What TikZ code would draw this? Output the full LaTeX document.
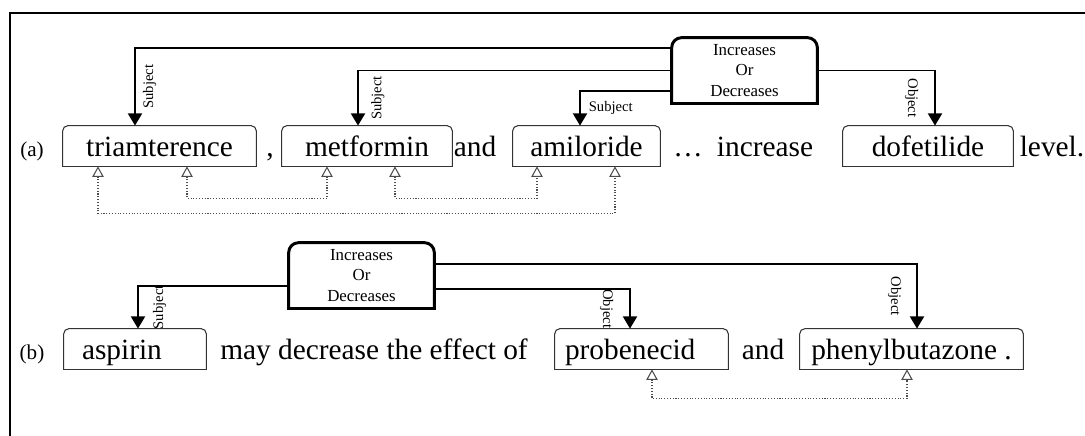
\documentclass[tikz,border=0pt]{standalone}
\usepackage{fontspec}
\setmainfont{Liberation Serif}
\usetikzlibrary{arrows.meta}

\begin{document}
\begin{tikzpicture}[
  word/.style={minimum height=0.8cm, inner sep=0pt, font=\fontsize{16.7}{20}\selectfont, text height=12pt, text depth=0pt},
  plain/.style={inner sep=0pt, font=\fontsize{16.7}{20}\selectfont, text height=12pt, text depth=0pt},
  tag/.style={inner sep=0pt, font=\fontsize{12}{14}\selectfont, text height=12pt, text depth=0pt},
  relbox/.style={minimum width=2.9cm, minimum height=1.3cm, inner sep=0pt, align=center, font=\fontsize{9.6}{11.6}\selectfont},
  boxline/.style={draw=black!80, line width=0.6pt, line cap=rect},
  thickline/.style={draw=black, line width=1.7pt, line cap=rect},
  rel/.style={line width=1.1pt, -{Triangle[width=8pt, length=7pt]}},
  coref/.style={densely dotted, gray!60!black, line width=0.6pt, {Triangle[open, width=6.5pt, length=6pt]}-{Triangle[open, width=6.5pt, length=6pt]}},
  lab/.style={inner sep=1.5pt, font=\fontsize{8.3}{10}\selectfont}
]
\useasboundingbox (0,0) rectangle (21.7,8.72);
\draw[line width=1.1pt] (0.2,0) -- (0.2,8.46) -- (21.7,8.46);

% sentence (a)
\node[tag] (taga) at (0.64,5.8) {(a)};
\node[word, minimum width=3.86cm] (tri) at (3.19,5.8) {triamterence};
\node[plain] (comma) at (5.40,5.8) {,};
\node[word, minimum width=3.40cm] (met) at (7.34,5.8) {metformin};
\node[plain] (and1) at (9.50,5.8) {and};
\node[word, minimum width=2.94cm] (ami) at (11.73,5.8) {amiloride};
\node[plain] (dots) at (13.76,5.8) {…};
\node[plain] (incr) at (15.30,5.8) {increase};
\node[word, minimum width=3.40cm] (dof) at (18.56,5.8) {dofetilide};
\node[plain] (level) at (21.04,5.8) {level.};
\node[relbox] (ioda) at (14.89,7.31) {Increases\\Or\\Decreases};

% sentence (b)
\node[tag] (tagb) at (0.64,1.74) {(b)};
\node[word, text width=2.12cm, inner xsep=0.36cm, align=left] (asp) at (2.70,1.74) {aspirin};
\node[plain] (may) at (7.48,1.74) {may decrease the effect of};
\node[word, text width=3.06cm, inner xsep=0.2cm, align=left] (pro) at (12.83,1.74) {probenecid};
\node[plain] (and2) at (15.26,1.74) {and};
\node[word, minimum width=4.46cm] (phe) at (18.23,1.74) {phenylbutazone .};
\node[relbox] (iodb) at (7.23,3.21) {Increases\\Or\\Decreases};

% outlines, rounded on top only
\foreach \n in {tri,met,ami,dof,asp,pro,phe}{
  \draw[boxline, rounded corners=3pt] (\n.south west) -- (\n.north west) -- (\n.north east) -- (\n.south east);
  \draw[boxline] (\n.south west) -- (\n.south east);
}
\foreach \n in {ioda,iodb}{
  \draw[thickline, rounded corners=0.2cm] (\n.south west) -- (\n.north west) -- (\n.north east) -- (\n.south east);
  \draw[thickline] (\n.south west) -- (\n.south east);
}

% relations (a)
\draw[rel] ([yshift=0.45cm]ioda.west) -| node[lab, pos=0.75, rotate=90, anchor=north, outer sep=3pt] {Subject} ([xshift=-0.49cm]tri.north);
\draw[rel] (ioda.west) -| node[lab, pos=0.75, rotate=90, anchor=north, outer sep=6pt] {Subject} ([xshift=-0.18cm]met.north);
\draw[rel] ([yshift=-0.41cm]ioda.west) -| node[lab, pos=0.75, anchor=west, xshift=3pt] {Subject} ([xshift=-0.13cm]ami.north);
\draw[rel] (ioda.east) -| node[lab, pos=0.75, rotate=-90, anchor=north, outer sep=8pt] {Object} ([xshift=0.14cm]dof.north);

% relations (b)
\draw[rel] ([yshift=-0.21cm]iodb.west) -| node[lab, pos=0.75, rotate=90, anchor=north, outer sep=7pt] {Subject} ([xshift=0.06cm]asp.north);
\draw[rel] ([yshift=-0.27cm]iodb.east) -| node[lab, pos=0.75, rotate=-90, anchor=north, outer sep=8pt] {Object} ([xshift=-0.23cm]pro.north);
\draw[rel] ([yshift=0.23cm]iodb.east) -| node[lab, pos=0.75, rotate=-90, anchor=north, outer sep=7.5pt] {Object} ([xshift=0.11cm]phe.north);

% coordinations
\draw[coref] ([xshift=-1.23cm]tri.south) -- ++(0,-0.94) -| ([xshift=0.57cm]ami.south);
\draw[coref] ([xshift=0.55cm]tri.south) -- ++(0,-0.64) -| ([xshift=-0.8cm]met.south);
\draw[coref] ([xshift=0.56cm]met.south) -- ++(0,-0.64) -| ([xshift=-0.99cm]ami.south);
\draw[coref] ([xshift=0.21cm]pro.south) -- ++(0,-0.58) -| ([xshift=-0.09cm]phe.south);
\end{tikzpicture}
\end{document}
